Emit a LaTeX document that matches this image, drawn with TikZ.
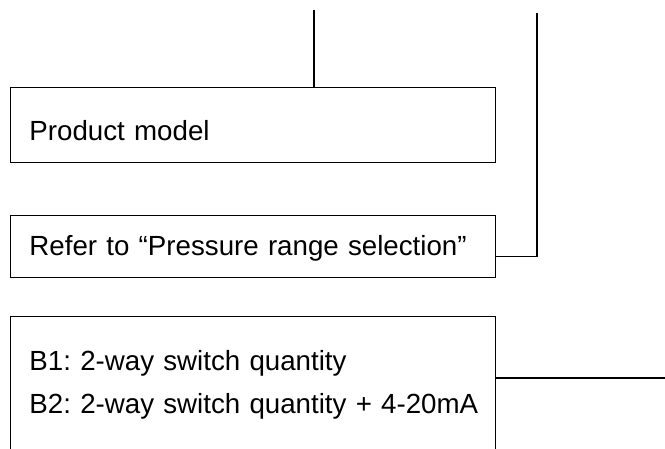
\documentclass[tikz,border=0pt]{standalone}
\usepackage{fontspec}
\setmainfont{Liberation Sans}
\frenchspacing
\usetikzlibrary{positioning, calc}

\tikzset{
  infobox/.style={draw, rectangle, line width=1.4pt, anchor=north west,
    text width=447pt, inner xsep=19.25pt, inner ysep=0pt, align=left,
    font=\fontsize{27.7}{43}\selectfont},
  wire/.style={line width=1.4pt}
}

\begin{document}
\begin{tikzpicture}[x=1pt, y=1pt]
    \path[use as bounding box, clip] (0,0) rectangle (665,-448);
    % Nodes
    \node (model) [infobox, text height=53pt, text depth=22pt] at (9.5,-87) {Product model};
    \node (range) [infobox, text height=40pt, text depth=21.7pt] at (9.5,-215) {Refer to “Pressure range selection”};
    \node (output) [infobox, text height=54.3pt, text depth=110pt] at (9.5,-315.7) {\mbox{B1: 2-way switch quantity}\\\mbox{B2: 2-way switch quantity + 4-20mA}};
    \coordinate (top1) at (314,-10);
    \coordinate (top2) at (537,-13);
    \coordinate (bend2) at (537,-256.7);
    \coordinate (out3) at (665,-378);

    % Wires
    \draw[wire] (top1) -- (top1 |- model.north);
    \draw[wire] (top2) -- (bend2) -- (bend2 -| range.east);
    \draw[wire] (out3 -| output.east) -- (out3);
\end{tikzpicture}
\end{document}
